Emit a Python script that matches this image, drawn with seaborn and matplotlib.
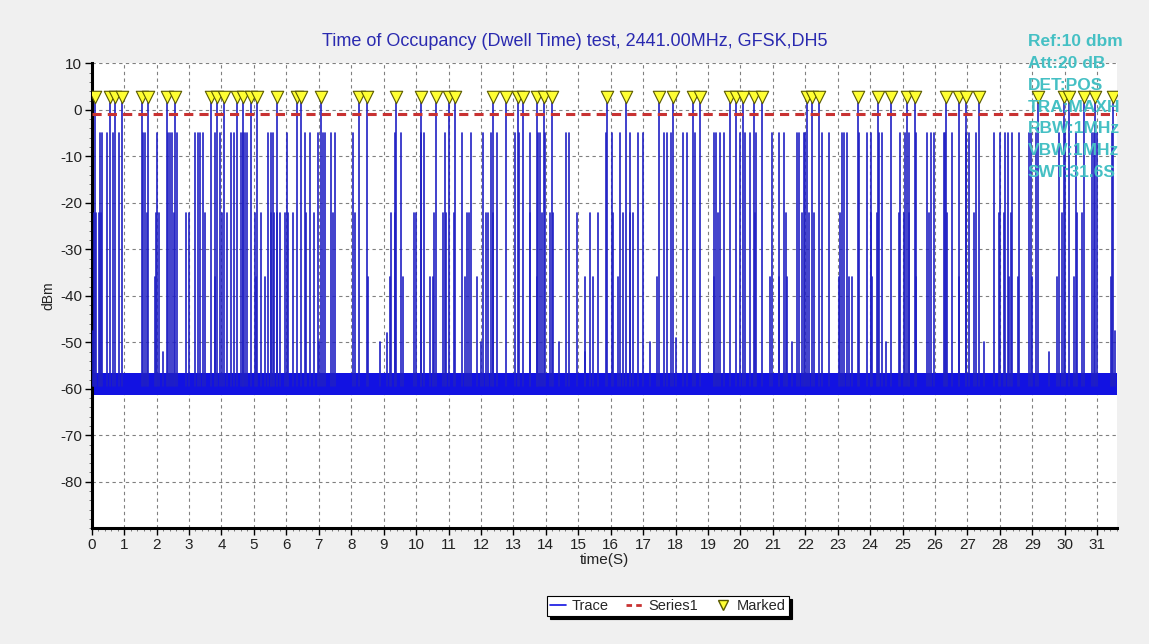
import numpy as np
import pandas as pd
import matplotlib
matplotlib.use("Agg")
import matplotlib.pyplot as plt
from matplotlib.ticker import MultipleLocator
from matplotlib.lines import Line2D
import seaborn as sns

# ---------------- data ----------------
title = "Time of Occupancy (Dwell Time) test, 2441.00MHz, GFSK,DH5"
info_lines = ["Ref:10 dbm", "Att:20 dB", "DET:POS", "TRA:MAXH",
              "RBW:1MHz", "VBW:1MHz", "SWT:31.6S"]
sweep_time = 31.6
threshold_db = -0.9          # Series1 (red dashed)
floor_low = -61.3            # noise floor band
floor_high = -56.5
marker_level = 2.7           # triangle markers
marked_peak = 1.5            # peak of marked bursts

marked_times = [0.11, 0.55, 0.73, 0.93, 1.55, 1.74, 2.33, 2.58, 3.67, 3.87,
                4.08, 4.47, 4.66, 4.90, 5.11, 5.70, 6.32, 6.46, 7.06, 8.25,
                8.48, 9.38, 10.16, 10.62, 11.00, 11.20, 12.38, 12.78, 13.15,
                13.31, 13.72, 13.95, 14.19, 15.88, 16.47, 17.50, 17.93, 18.53,
                18.74, 19.68, 19.87, 20.07, 20.42, 20.67, 22.06, 22.21, 22.42,
                23.63, 24.25, 24.64, 25.15, 25.38, 26.34, 26.75, 26.94, 27.37,
                29.18, 29.96, 30.13, 30.60, 30.93, 31.50]

level5_times = [0.25, 0.32, 0.48, 0.66, 0.83, 1.58, 1.65, 2.02, 2.35, 2.41,
                2.48, 2.64, 3.19, 3.28, 3.34, 3.44, 3.79, 3.96, 4.29, 4.39,
                4.60, 4.67, 4.72, 4.80, 5.44, 5.52, 5.60, 6.03, 6.59, 6.73,
                6.98, 7.14, 7.20, 7.37, 7.51, 8.06, 9.36, 9.55, 10.15, 10.23,
                10.89, 11.41, 11.68, 12.05, 12.30, 12.49, 13.05, 13.18, 13.51,
                13.77, 13.82, 13.98, 14.62, 14.73, 15.86, 16.03, 16.29, 16.58,
                16.85, 16.99, 17.63, 17.75, 17.85, 18.22, 18.35, 18.60, 19.17,
                19.25, 19.37, 19.48, 19.99, 20.14, 20.30, 20.48, 20.98, 21.18,
                21.34, 21.75, 21.82, 21.95, 22.00, 22.52, 22.72, 23.13, 23.19,
                23.29, 23.67, 23.91, 24.04, 24.27, 24.37, 24.93, 25.07, 25.19,
                25.40, 25.76, 25.89, 25.96, 26.27, 26.32, 26.53, 26.94, 27.04,
                27.25, 27.81, 27.99, 28.15, 28.25, 28.38, 28.59, 28.89, 28.97,
                29.10, 29.82, 30.02, 30.33, 30.85, 30.90, 31.00, 31.44]
level5_db = -5.0

level22_times = [0.07, 0.14, 0.22, 0.30, 1.72, 1.99, 2.07, 2.54, 2.92, 2.99,
                 3.48, 4.02, 4.18, 5.03, 5.23, 5.52, 5.62, 5.72, 5.81, 5.95,
                 6.05, 6.21, 6.62, 6.86, 7.44, 8.11, 9.22, 9.34, 9.94, 10.01,
                 10.56, 10.82, 10.93, 11.17, 11.56, 11.64, 12.16, 12.23, 12.37,
                 13.52, 13.88, 14.13, 14.22, 14.96, 15.37, 15.62, 16.08, 16.39,
                 16.60, 16.68, 19.32, 20.45, 21.39, 21.90, 22.11, 22.26, 23.08,
                 24.01, 24.22, 24.88, 25.04, 25.21, 25.81, 26.38, 27.20, 27.97,
                 28.12, 28.33, 29.92, 30.38, 30.54]
level22_db = -22.3

level36_times = [1.96, 3.79, 5.08, 5.33, 8.52, 9.19, 9.60, 10.42, 10.53, 11.51,
                 11.87, 13.72, 15.21, 15.45, 16.23, 17.42, 19.17, 20.92, 21.18,
                 21.44, 23.03, 23.34, 23.45, 24.06, 25.40, 26.73, 28.28, 28.56,
                 29.00, 29.77, 30.28, 31.41]
level36_db = -36.0

low_times = [0.05, 2.20, 7.00, 8.90, 9.10, 12.00, 14.40, 15.20, 17.20, 18.00,
             21.60, 24.50, 27.50, 29.50, 31.55]
low_db = [-47.5, -52.0, -50.0, -50.0, -48.0, -50.0, -50.0, -52.0, -50.0,
          -49.0, -50.0, -50.0, -50.0, -52.0, -47.5]

x_ticks = list(range(0, 32))
y_ticks = [10, 0, -10, -20, -30, -40, -50, -60, -70, -80]

# ---------------- build trace table ----------------
spike_t = (marked_times + level5_times + level22_times + level36_times + low_times)
spike_v = ([marked_peak] * len(marked_times) + [level5_db] * len(level5_times)
           + [level22_db] * len(level22_times) + [level36_db] * len(level36_times)
           + low_db)
rows = []
for i, (t, v) in enumerate(zip(spike_t, spike_v)):
    rows.append({"time": t, "dBm": floor_low + 2, "unit": i})
    rows.append({"time": t, "dBm": v, "unit": i})
trace = pd.DataFrame(rows)
marks = pd.DataFrame({"time": marked_times, "dBm": [marker_level] * len(marked_times)})

# ---------------- style ----------------
sns.set_style("white")
plt.rcParams["font.family"] = ["Liberation Sans", "DejaVu Sans"]
plt.rcParams["axes.unicode_minus"] = False

W, H = 1149, 644
fig = plt.figure(figsize=(W / 100, H / 100), dpi=100)
fig.patch.set_facecolor("#F0F0F0")
ax = fig.add_axes([91.7 / W, 1 - 528.3 / H, (1116.7 - 91.7) / W, (528.3 - 63.3) / H])
ax.set_facecolor("white")

band_color = "#1212E2"
line_color = "#2020C4"
ax.fill_between([0, sweep_time], floor_low, floor_high, color=band_color, lw=0, zorder=2)
sns.lineplot(data=trace, x="time", y="dBm", units="unit", estimator=None,
             color=line_color, lw=1.2, ax=ax, legend=False, zorder=3)
ax.axhline(threshold_db, color="#C83232", lw=2.2, ls=(0, (3, 2)), zorder=4)
sns.scatterplot(data=marks, x="time", y="dBm", marker="v", s=80,
                color="#FFFF33", edgecolor="#5A5A00", linewidth=0.8,
                ax=ax, legend=False, zorder=5)

ax.set_xlim(0, sweep_time)
ax.set_ylim(-90, 10)
ax.set_xticks(x_ticks)
ax.set_yticks(y_ticks)
ax.xaxis.set_minor_locator(MultipleLocator(0.2))
ax.yaxis.set_minor_locator(MultipleLocator(2))
ax.tick_params(axis="both", which="major", direction="out", length=5, width=1,
               color="black", labelsize=11, labelcolor="#222222", pad=2,
               bottom=True, left=True)
ax.tick_params(axis="both", which="minor", direction="out", length=2.5, width=0.7,
               color="#777777", bottom=True, left=True)
ax.grid(True, which="major", color="#808080", lw=0.8, ls=(0, (3, 3)))
ax.set_axisbelow(True)
for s in ["top", "right"]:
    ax.spines[s].set_visible(False)
for s in ["left", "bottom"]:
    ax.spines[s].set_color("black")
    ax.spines[s].set_linewidth(2.2)

ax.set_xlabel("time(S)", fontsize=11, color="#222222", labelpad=1)
ax.set_ylabel("dBm", fontsize=10, color="#222222", labelpad=3)

fig.text(0.5, 1 - 42 / H, title, ha="center", va="center", fontsize=13, color="#2A2AB0")

for i, line in enumerate(info_lines):
    fig.text(1028 / W, 1 - (42 + i * 21.7) / H, line, ha="left", va="center",
             fontsize=12.5, fontweight="bold", color="#45C0C4", zorder=10)

handles = [Line2D([], [], color=band_color, lw=1.2),
           Line2D([], [], color="#C83232", lw=2, ls=(0, (2, 1.5))),
           Line2D([], [], color="#FFFF33", marker="v", ls="none", markersize=7,
                  markeredgecolor="#5A5A00")]
leg = fig.legend(handles, ["Trace", "Series1", "Marked"], ncol=3,
                 loc="center", bbox_to_anchor=(668 / W, 1 - 606 / H),
                 frameon=True, fancybox=False, edgecolor="black", framealpha=1,
                 fontsize=10.5, handlelength=1.1, handletextpad=0.4,
                 columnspacing=1.2, borderpad=0.2, borderaxespad=0,
                 shadow={"color": "black", "alpha": 1})
leg.get_frame().set_linewidth(0.8)

fig.savefig("out.png", dpi=100, facecolor=fig.get_facecolor())
